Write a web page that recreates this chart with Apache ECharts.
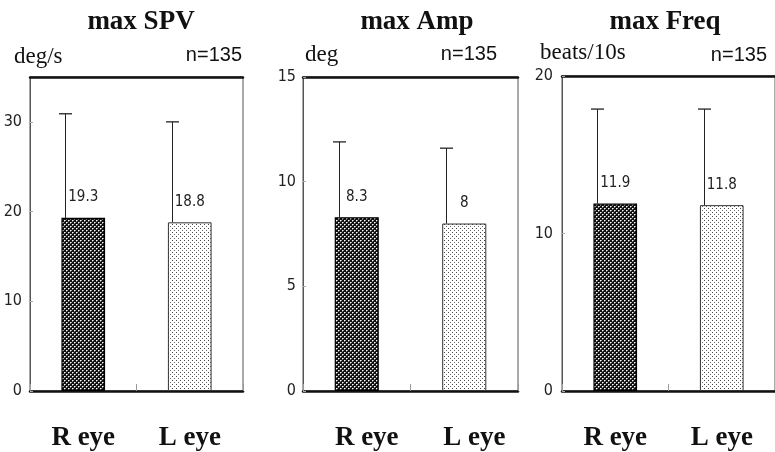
<!DOCTYPE html>
<html>
<head>
<meta charset="utf-8">
<script src="https://cdn.jsdelivr.net/npm/echarts@6/dist/echarts.min.js"></script>
<style>html,body{margin:0;padding:0;background:#fff}#c{width:775px;height:452px}</style>
</head>
<body>
<div id="c"></div>
<script>
// ---- data ----
var categories = ['R eye', 'L eye'];
var panelTitles = ['max SPV', 'max Amp', 'max Freq'];
var panelUnits = ['deg/s', 'deg', 'beats/10s'];
var sampleLabel = 'n=135';
var spvMean = [19.3, 18.8];
var spvSD = [11.6, 11.2];
var ampMean = [8.3, 8];
var ampSD = [3.6, 3.6];
var freqMean = [11.9, 11.8];
var freqSD = [6.0, 6.1];
var yMax = [35, 15, 20];
var yInterval = [10, 5, 10];

// ---- styles ----
function makePattern(bg, pts) {
  var c = document.createElement('canvas');
  c.width = 4; c.height = 4;
  var g = c.getContext('2d');
  g.fillStyle = bg; g.fillRect(0, 0, 4, 4);
  pts.forEach(function (p) { g.fillStyle = p[2]; g.fillRect(p[0], p[1], 1, 1); });
  return c;
}
var darkPat = makePattern('#111', [[0, 0, '#fff'], [2, 2, '#fff'], [1, 0, '#999'], [3, 2, '#999'], [0, 1, '#777'], [2, 3, '#777']]);
var lightPat = makePattern('#fff', [[0, 0, '#444'], [2, 2, '#666']]);
var barStyles = [
  { color: { image: darkPat, repeat: 'repeat' }, borderColor: '#000', borderWidth: 1.2 },
  { color: { image: lightPat, repeat: 'repeat' }, borderColor: '#333', borderWidth: 1 }
];
var BAR_RATIO = 0.41;
var narrow = "'Liberation Sans Narrow','DejaVu Sans Condensed','Roboto Condensed','Liberation Sans',sans-serif";
var serif = "'Liberation Serif','DejaVu Serif',serif";
var sans = "'Liberation Sans',Arial,sans-serif";

var grids = [
  { left: 30, top: 77, width: 213, height: 315 },
  { left: 303, top: 77, width: 215, height: 315 },
  { left: 562, top: 76, width: 213, height: 318 }
];
var labelPad = [[0, 0, 0, 0], [0, 0, 0, 20], [0, 0, 0, 0]];
var yLabelMargin = [8, 7, 9];
var showMax = [false, true, true];

var means = [spvMean, ampMean, freqMean];
var sds = [spvSD, ampSD, freqSD];

var option = {
  animation: false,
  grid: grids.map(function (g) {
    return Object.assign({ show: true, borderColor: '#555', borderWidth: 1, backgroundColor: 'transparent' }, g);
  }),
  xAxis: [],
  yAxis: [],
  series: [],
  graphic: []
};

function errRender(params, api) {
  var cat = api.value(0), mean = api.value(1), hi = api.value(2);
  var p0 = api.coord([cat, mean]);
  var p1 = api.coord([cat, hi]);
  var bw = api.size([1, 0])[0] * BAR_RATIO;
  var x = Math.round(p0[0] - bw / 2 + 4) + 0.5;
  return {
    type: 'group',
    children: [
      { type: 'line', shape: { x1: x, y1: p0[1], x2: x, y2: p1[1] }, style: { stroke: '#222', lineWidth: 1 } },
      { type: 'line', shape: { x1: x - 6.5, y1: p1[1], x2: x + 6.5, y2: p1[1] }, style: { stroke: '#222', lineWidth: 1.3 } }
    ]
  };
}

for (var i = 0; i < 3; i++) {
  option.xAxis.push({
    type: 'category', gridIndex: i, data: categories, position: 'bottom',
    axisLine: { lineStyle: { color: '#111', width: 2.5 } },
    axisTick: { show: true, inside: true, length: 7, lineStyle: { color: '#999' } },
    axisLabel: { fontFamily: serif, fontWeight: 'bold', fontSize: 27, color: '#111', margin: 34, padding: labelPad[i] }
  });
  option.xAxis.push({
    type: 'category', gridIndex: i, data: categories, position: 'top',
    axisLine: { lineStyle: { color: '#111', width: 2.5 } },
    axisTick: { show: false }, axisLabel: { show: false }
  });
  option.yAxis.push({
    type: 'value', gridIndex: i, min: 0, max: yMax[i], interval: yInterval[i],
    splitLine: { show: false },
    axisLine: { show: true, lineStyle: { color: '#555', width: 1 } },
    axisTick: { show: true, inside: true, length: 3, lineStyle: { color: '#aaa' } },
    axisLabel: { fontFamily: narrow, fontSize: 16, color: '#222', margin: yLabelMargin[i], padding: [6, 0, 0, 0], showMaxLabel: showMax[i] }
  });
  option.series.push({
    type: 'bar', xAxisIndex: i * 2, yAxisIndex: i, barWidth: (BAR_RATIO * 100) + '%',
    data: means[i].map(function (v, k) { return { value: v, itemStyle: barStyles[k] }; }),
    label: { show: true, position: 'top', distance: 13, fontFamily: narrow, fontSize: 15, color: '#222' }
  });
  option.series.push({
    type: 'custom', xAxisIndex: i * 2, yAxisIndex: i, z: 5,
    renderItem: errRender,
    data: means[i].map(function (v, k) { return [k, v, v + sds[i][k]]; })
  });
}

var titleX = [141, 417, 665];
var unitPos = [[14, 57], [305, 55], [540, 53]];
var nPos = [[242, 55], [497, 54], [767, 55]];
for (var j = 0; j < 3; j++) {
  option.graphic.push({
    type: 'text', x: titleX[j], y: 22,
    style: { text: panelTitles[j], font: 'bold 27px ' + serif, fill: '#111', textAlign: 'center', textVerticalAlign: 'middle' }
  });
  option.graphic.push({
    type: 'text', x: unitPos[j][0], y: unitPos[j][1],
    style: { text: panelUnits[j], font: '23px ' + serif, fill: '#111', textAlign: 'left', textVerticalAlign: 'middle' }
  });
  option.graphic.push({
    type: 'text', x: nPos[j][0], y: nPos[j][1],
    style: { text: sampleLabel, font: '20px ' + sans, fill: '#111', textAlign: 'right', textVerticalAlign: 'middle' }
  });
}

var chart = echarts.init(document.getElementById('c'), null, { renderer: 'canvas' });
chart.setOption(option);
</script>
</body>
</html>
